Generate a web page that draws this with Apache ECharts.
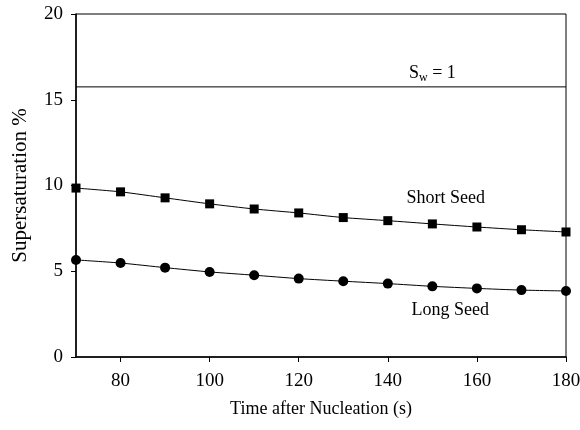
<!DOCTYPE html>
<html>
<head>
<meta charset="utf-8">
<script src="https://cdn.jsdelivr.net/npm/echarts@6/dist/echarts.min.js"></script>
<style>
  html, body { margin: 0; padding: 0; background: #fff; }
  #chart { width: 580px; height: 430px; }
</style>
</head>
<body>
<div id="chart"></div>
<script>
// time after nucleation (s)
const times = [70, 80, 90, 100, 110, 120, 130, 140, 150, 160, 170, 180]
// supersaturation %
const shortSeed = [9.85, 9.63, 9.28, 8.93, 8.63, 8.4, 8.13, 7.95, 7.76, 7.58, 7.42, 7.29]
const longSeed = [5.66, 5.48, 5.21, 4.96, 4.77, 4.57, 4.42, 4.28, 4.12, 4.0, 3.9, 3.85]
const swLevel = 15.75
// tick labels
const xTicks = [80, 100, 120, 140, 160, 180]
const yTicks = [0, 5, 10, 15, 20]

const font = 'Liberation Serif, Times New Roman, serif'

const pairs = (ys) => times.map((t, i) => [t, ys[i]])

// text-only annotation anchored at a data coordinate
const note = (coord, text) => ({
  symbol: 'circle',
  symbolSize: 1,
  silent: true,
  itemStyle: { color: 'transparent' },
  data: [{ coord: coord, value: text }],
  label: {
    show: true,
    position: 'inside',
    formatter: text,
    fontFamily: font,
    fontSize: 18,
    color: '#000',
  },
})

const chart = echarts.init(document.getElementById('chart'))

const swNote = note([150, 16.57], '{s|S}{sub|w}{s| = 1}')
swNote.label.rich = {
  s: { fontFamily: font, fontSize: 18, color: '#000' },
  sub: { fontFamily: font, fontSize: 12, color: '#000', padding: [10, 0, 0, 0] },
}

const option = {
  backgroundColor: '#fff',
  animation: false,
  grid: {
    left: 76,
    right: 14,
    top: 14,
    bottom: 73,
    outerBoundsMode: 'none',
    show: true,
    borderColor: '#000',
    borderWidth: 1,
  },
  xAxis: {
    type: 'value',
    min: 70,
    max: 180,
    name: 'Time after Nucleation (s)',
    nameLocation: 'middle',
    nameGap: 43,
    nameTextStyle: { fontFamily: font, fontSize: 18, color: '#000' },
    axisLine: { lineStyle: { color: '#000', width: 1.5 } },
    axisTick: { show: true, length: 5, customValues: xTicks, lineStyle: { color: '#000' } },
    axisLabel: {
      margin: 15,
      customValues: xTicks,
      fontFamily: font,
      fontSize: 19,
      color: '#000',
    },
    splitLine: { show: false },
  },
  yAxis: {
    type: 'value',
    min: 0,
    max: 20,
    interval: 5,
    name: 'Supersaturation %',
    nameLocation: 'middle',
    nameGap: 45,
    nameTextStyle: { fontFamily: font, fontSize: 21, color: '#000' },
    axisLine: { show: true, lineStyle: { color: '#000', width: 1.5 } },
    axisTick: { show: true, length: 5, customValues: yTicks, lineStyle: { color: '#000' } },
    axisLabel: { margin: 13, customValues: yTicks, fontFamily: font, fontSize: 19, color: '#000' },
    splitLine: { show: false },
  },
  series: [
    {
      name: 'Sw',
      type: 'line',
      data: [[70, swLevel], [180, swLevel]],
      showSymbol: false,
      silent: true,
      lineStyle: { color: '#000', width: 1 },
      markPoint: swNote,
    },
    {
      name: 'Short Seed',
      type: 'line',
      data: pairs(shortSeed),
      smooth: 0.2,
      symbol: 'rect',
      symbolSize: 9,
      itemStyle: { color: '#000' },
      lineStyle: { color: '#000', width: 1 },
      markPoint: note([153, 9.28], 'Short Seed'),
    },
    {
      name: 'Long Seed',
      type: 'line',
      data: pairs(longSeed),
      smooth: 0.2,
      symbol: 'circle',
      symbolSize: 10,
      itemStyle: { color: '#000' },
      lineStyle: { color: '#000', width: 1 },
      markPoint: note([154, 2.74], 'Long Seed'),
    },
  ],
}

chart.setOption(option)
</script>
</body>
</html>
